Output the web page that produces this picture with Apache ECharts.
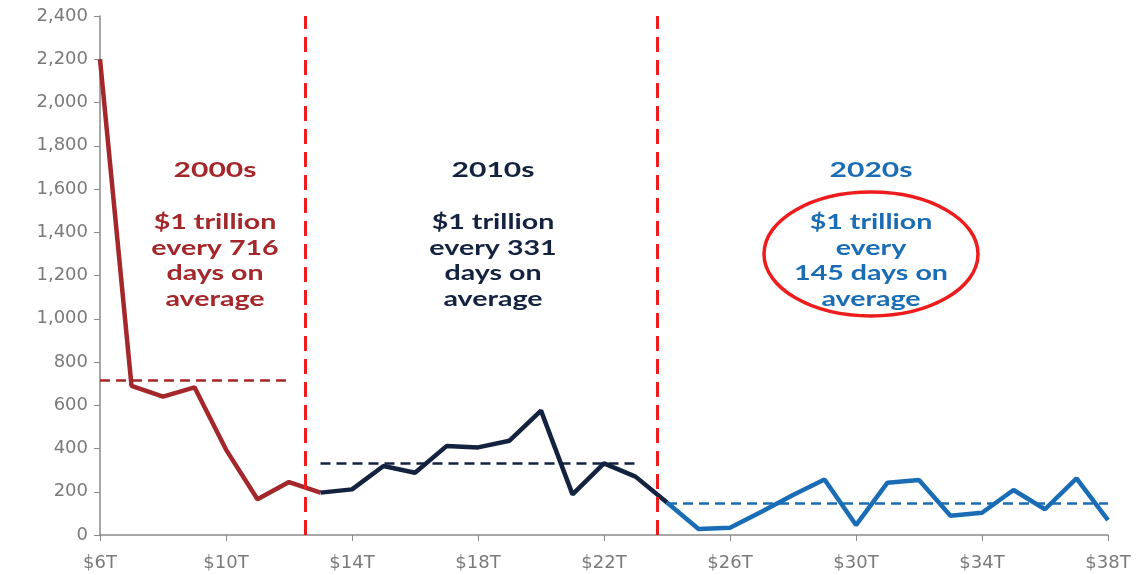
<!DOCTYPE html>
<html>
<head>
  <meta charset="utf-8">
  <title>Days per $1 trillion of debt</title>
  <script src="https://cdn.jsdelivr.net/npm/echarts@6/dist/echarts.min.js"></script>
</head>
<style>
  * { padding: 0; margin: 0; }
  #main { width: 1140px; height: 575px; background: #fff; }
</style>
<body>
  <div id="main"></div>
  <script type="text/javascript">
    // debt level, $6T .. $38T
    var categories = [];
    for (var t = 6; t <= 38; t++) categories.push('$' + t + 'T');

    // days taken to add each $1 trillion
    var days2000s = [2200, 690, 640, 683, 395, 165, 245, 196];            // $6T-$13T
    var days2010s = [196, 211, 319, 288, 411, 405, 436, 575, 188, 331, 270, 150]; // $13T-$24T
    var days2020s = [150, 28, 34, 108, 185, 257, 46, 242, 254, 89, 103, 208, 119, 262, 69]; // $24T-$38T
    var start2000s = 0, start2010s = 7, start2020s = 18;

    var avg2000s = 716, avg2010s = 331, avg2020s = 145;
    // decade boundaries, measured on the debt axis ($T)
    var dividers = [12.5, 23.68];

    var RED = '#a3272b', NAVY = '#13223f', BLUE = '#1a6db5', DIV = '#ee1c1c';

    function pad(vals, start) {
      var out = categories.map(function () { return null; });
      vals.forEach(function (v, i) { out[start + i] = v; });
      return out;
    }

    function avgLine(avg, from, to, color) {
      return {
        silent: true,
        symbol: 'none',
        label: { show: false },
        lineStyle: { color: color, type: [10, 6], width: 2.5 },
        data: [[{ coord: [categories[from], avg] }, { coord: [categories[to], avg] }]]
      };
    }

    var labelFont = { fontFamily: 'DejaVu Sans', fontSize: 18, color: '#7a7a7a' };

    // the source picture is stretched sideways, so the notes are too
    var STRETCH = 1.43;
    function block(x, title, lines, color) {
      return [{
        type: 'text', x: x, y: 170, scaleX: STRETCH,
        style: { text: title, fill: color, font: 'bold 21px Lato', align: 'center', verticalAlign: 'middle' }
      }, {
        type: 'text', x: x, y: 210, scaleX: STRETCH,
        style: { text: lines.join('\n'), fill: color, font: 'bold 20px Lato', lineHeight: 25.5, align: 'center', verticalAlign: 'top' }
      }];
    }

    var myChart = echarts.init(document.getElementById('main'));

    var option = {
      animation: false,
      grid: { left: 100, right: 32, top: 16, bottom: 40 },
      xAxis: [{
        type: 'category',
        data: categories,
        boundaryGap: false,
        axisLine: { lineStyle: { color: '#8a8a8a', width: 1.5 } },
        axisTick: { interval: 3, length: 6, lineStyle: { color: '#8a8a8a' } },
        axisLabel: Object.assign({ interval: 3, margin: 19 }, labelFont)
      }, {
        type: 'value', min: 6, max: 38, show: false
      }],
      yAxis: {
        type: 'value',
        min: 0, max: 2400, interval: 200,
        splitLine: { show: false },
        axisLine: { show: true, lineStyle: { color: '#8a8a8a', width: 1.5 } },
        axisTick: { show: true, length: 6, lineStyle: { color: '#8a8a8a' } },
        axisLabel: Object.assign({ margin: 12 }, labelFont)
      },
      series: [{
        type: 'line', data: pad(days2000s, start2000s), symbol: 'none',
        lineStyle: { color: RED, width: 4.5 },
        markLine: avgLine(avg2000s, 0, 6, RED)
      }, {
        type: 'line', data: pad(days2010s, start2010s), symbol: 'none',
        lineStyle: { color: NAVY, width: 4.5 },
        markLine: avgLine(avg2010s, 7, 17, NAVY)
      }, {
        type: 'line', data: pad(days2020s, start2020s), symbol: 'none',
        lineStyle: { color: BLUE, width: 4.5 },
        markLine: avgLine(avg2020s, 18, 32, BLUE)
      }, {
        type: 'line', xAxisIndex: 1, data: [], symbol: 'none',
        markLine: {
          silent: true, symbol: 'none', label: { show: false },
          lineStyle: { color: DIV, type: [15, 8], width: 3 },
          data: dividers.map(function (d) { return { xAxis: d }; })
        }
      }],
      graphic: [].concat(
        block(215, '2000s', ['$1 trillion', 'every 716', 'days on', 'average'], RED),
        block(493, '2010s', ['$1 trillion', 'every 331', 'days on', 'average'], NAVY),
        block(871, '2020s', ['$1 trillion', 'every', '145 days on', 'average'], BLUE),
        [{
          type: 'ellipse',
          shape: { cx: 871, cy: 254, rx: 107, ry: 62 },
          style: { fill: 'none', stroke: DIV, lineWidth: 3.5 }
        }]
      )
    };

    myChart.setOption(option);
  </script>
</body>
</html>
